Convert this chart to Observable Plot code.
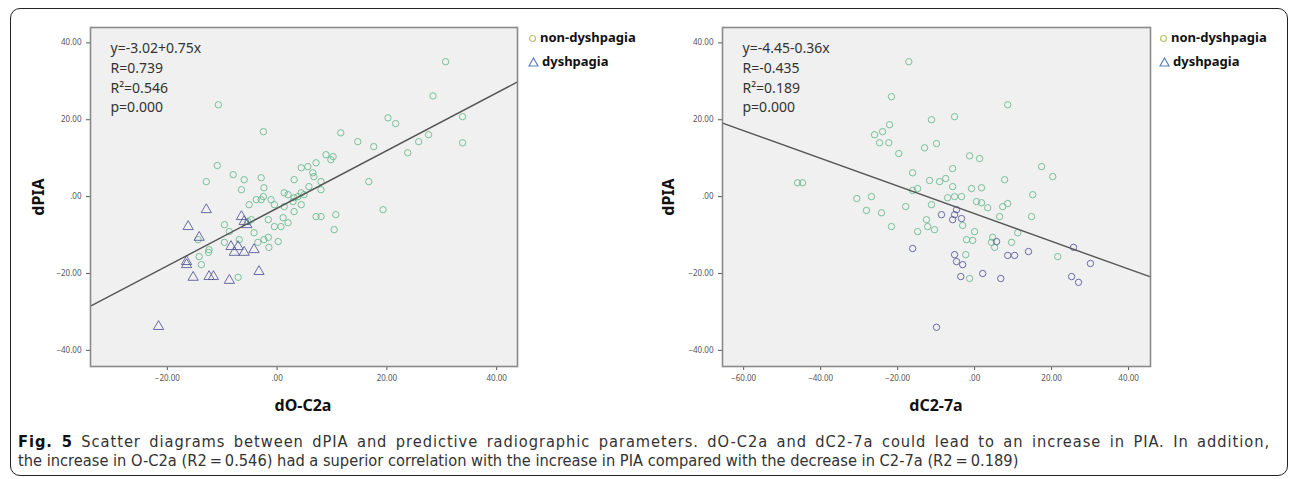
<!DOCTYPE html>
<html><head><meta charset="utf-8">
<script src="https://cdn.jsdelivr.net/npm/d3@7"></script>
<script src="https://cdn.jsdelivr.net/npm/@observablehq/plot@0.6"></script>
<style>
html,body{margin:0;padding:0;background:#fff;}
#wrap{position:relative;width:1290px;height:479px;overflow:hidden;font-family:"Noto Sans",sans-serif;}
#box{position:absolute;left:10px;top:8px;width:1278px;height:468px;border:1.5px solid #222;border-radius:10px;box-sizing:border-box;}
.plot{position:absolute;top:0;}
.ylab{position:absolute;font-weight:bold;font-size:16px;color:#111;transform:translate(-50%,-50%) rotate(-90deg);white-space:nowrap;}
.xlab{position:absolute;font-weight:bold;font-size:16px;color:#111;transform:translate(-50%,-50%);white-space:nowrap;}
.legend{position:absolute;font-weight:bold;font-size:13px;color:#111;line-height:24px;}
.legend svg{vertical-align:middle;margin-right:3px;}
.cap{position:absolute;left:18px;width:1252px;font-family:"Liberation Sans Narrow","DejaVu Sans Condensed","Roboto",sans-serif;font-size:16.3px;line-height:19px;color:#333;white-space:nowrap;}
#cap1{top:432px;text-align:justify;text-align-last:justify;white-space:normal;letter-spacing:0.95px;}
#cap2{top:451px;text-align:left;}
.cap b{color:#111;}
</style></head>
<body><div id="wrap"><div id="box"></div></div>
<script>
// ---- data: left panel (dO-C2a vs dPIA) ----
const leftNonX = [-10.7,-2.5,30.7,28.4,33.8,33.8,20.2,21.6,27.6,25.8,23.8,19.3,16.7,17.6,14.7,11.6,8.9,10.2,-10.9,-12.9,-8.0,-6.0,-2.9,-6.5,-2.4,1.3,3.1,4.4,6.5,7.1,8.0,5.6,6.7,4.4,7.1,10.7,10.4,-14.4,-14.2,-13.8,-12.4,-7.1,-8.7,-5.3,-4.2,-6.9,-9.6,-3.5,-2.4,-1.5,0.7,2.0,-1.6,-5.1,-2.9,-0.5,1.3,3.1,4.4,3.1,4.9,5.8,8.0,9.8,-2.5,-1.1,-3.8,2.0,3.8,2.9,1.1,8.0,-9.6,-0.5,-1.6,0.2,-12.5,-4.7];
const leftNonY = [23.9,16.9,35.1,26.2,20.8,14.0,20.5,19.0,16.1,14.3,11.4,-3.4,3.9,13.0,14.3,16.6,10.9,10.4,8.1,3.9,5.7,4.4,4.9,1.8,2.3,1.0,4.4,7.5,6.2,8.8,3.9,7.8,5.2,1.0,-5.2,-4.7,-8.6,-11.2,-15.6,-17.7,-13.8,-21.0,-9.1,-6.5,-9.4,-11.2,-7.3,-11.9,-11.2,-13.2,-7.8,-6.8,-6.0,-2.1,-0.8,-2.1,-2.6,-3.9,-2.1,-0.3,0.5,2.6,1.8,9.6,0.0,-0.8,-0.8,0.5,0.0,-1.3,-5.5,-5.2,-11.9,-7.8,-10.6,-11.7,-14.5,-6.0];
const leftDysX = [-21.6,-12.9,-16.2,-6.5,-14.2,-7.1,-8.4,-7.8,-6.0,-4.2,-16.5,-16.5,-3.3,-15.3,-12.4,-11.6,-8.7,-6.0,-5.5];
const leftDysY = [-33.8,-3.4,-7.8,-5.2,-10.6,-13.0,-13.0,-14.5,-14.5,-13.8,-16.9,-17.7,-19.5,-21.0,-20.8,-20.8,-21.8,-6.5,-7.3];
// ---- data: right panel (dC2-7a vs dPIA) ----
const rightNonX = [-17.1,-21.6,-23.9,-22.1,-26.0,-24.7,-22.3,-19.7,-13.0,-9.9,-11.2,-5.2,-1.3,1.3,-5.7,-16.1,-11.7,-9.1,-7.5,-14.8,-16.1,-5.7,-0.8,1.8,7.8,8.6,17.4,20.3,15.1,8.6,7.3,14.8,6.5,3.4,1.8,0.5,-3.4,-5.2,-7.0,-11.2,-17.9,-30.6,-26.8,-28.1,-24.2,-21.6,-14.8,-12.5,-10.4,-12.2,-3.1,0.0,-2.1,-0.5,4.7,4.4,5.2,9.6,11.2,21.6,-2.3,-1.3,-46.0,-44.7];
const rightNonY = [35.1,26.0,16.9,18.7,16.1,14.0,14.0,11.2,12.7,13.8,20.0,20.8,10.6,9.9,7.3,6.2,4.2,3.9,4.7,2.1,1.6,2.6,2.1,2.3,4.4,23.9,7.8,5.2,0.5,-1.8,-2.6,-5.2,-5.2,-2.9,-1.6,-1.3,0.0,0.0,-0.3,-2.1,-2.6,-0.5,0.0,-3.6,-4.2,-7.8,-9.1,-6.0,-8.6,-7.8,-7.5,-9.1,-11.2,-11.4,-10.6,-11.9,-13.2,-11.9,-9.4,-15.6,-15.1,-21.3,3.6,3.6];
const rightDysX = [-8.6,-5.2,-4.7,-5.7,-3.4,5.7,8.6,10.4,14.0,25.7,30.1,25.2,27.0,-5.2,-4.7,-3.1,-3.6,2.1,6.8,-16.1,-9.9];
const rightDysY = [-4.7,-4.7,-3.4,-6.0,-5.7,-11.7,-15.3,-15.3,-14.3,-13.2,-17.4,-20.8,-22.3,-15.1,-16.9,-17.7,-20.8,-20.0,-21.3,-13.5,-34.0];
// ---- fit equations and labels ----
const leftFit = {intercept: -3.02, slope: 0.75};
const rightFit = {intercept: -4.45, slope: -0.36};
const leftStats = ["y=-3.02+0.75x", "R=0.739", "R\u00b2=0.546", "p=0.000"];
const rightStats = ["y=-4.45-0.36x", "R=-0.435", "R\u00b2=0.189", "p=0.000"];
const leftXTicks = [-20, 0, 20, 40];
const rightXTicks = [-60, -40, -20, 0, 20, 40];
const yTicks = [-40, -20, 0, 20, 40];
const groups = ["non-dyshpagia", "dyshpagia"];

const colNon = "#63b98a", colDys = "#5a5d9c";
const fmt = d => d === 0 ? ".00" : d3.format(".2f")(d);

function panel(o) {
  const non = o.nonX.map((x, i) => ({x, y: o.nonY[i]}));
  const dys = o.dysX.map((x, i) => ({x, y: o.dysY[i]}));
  const fitLine = o.xDomain.map(x => ({x, y: o.fit.intercept + o.fit.slope * x}));
  return Plot.plot({
    width: o.width, height: 400,
    marginLeft: o.ml, marginRight: o.mr, marginTop: 27, marginBottom: 34,
    style: {background: "transparent", fontFamily: "Noto Sans, sans-serif"},
    x: {domain: o.xDomain, ticks: o.xTicks, tickFormat: fmt, label: null, tickSize: 4},
    y: {domain: [-44.2, 44], ticks: yTicks, tickFormat: fmt, label: null, tickSize: 4},
    marks: [
      Plot.frame({fill: "#f0f0f0", stroke: "none"}),
      Plot.axisX({ticks: o.xTicks, tickFormat: fmt, fontSize: 8, color: "#555", tickSize: 4, label: null}),
      Plot.axisY({ticks: yTicks, tickFormat: fmt, fontSize: 8, color: "#555", tickSize: 4, label: null}),
      Plot.dot(non, {x: "x", y: "y", r: 3.2, stroke: colNon, strokeWidth: 1, fill: "none", strokeOpacity: 0.85}),
      Plot.dot(dys, {x: "x", y: "y", r: o.dysSym === "triangle" ? 3.8 : 3.2, symbol: o.dysSym, stroke: colDys, strokeWidth: 1, fill: "none", strokeOpacity: 0.9}),
      Plot.line(fitLine, {x: "x", y: "y", stroke: "#555", strokeWidth: 1.4}),
      Plot.frame({stroke: "#8a8a8a", strokeWidth: 1.6}),
      Plot.text([o.stats.join("\n")], {frameAnchor: "top-left", dx: 20, dy: 12, fontSize: 14, lineHeight: 1.4, fill: "#333", textAnchor: "start"})
    ]
  });
}

const wrap = document.getElementById("wrap");
function place(el, left) { el.classList.add("plot"); el.style.left = left + "px"; wrap.appendChild(el); }

place(panel({width: 640, ml: 90, mr: 123, xDomain: [-34, 43.8], xTicks: leftXTicks,
  nonX: leftNonX, nonY: leftNonY, dysX: leftDysX, dysY: leftDysY, fit: leftFit, stats: leftStats, dysSym: "triangle"}), 0);
place(panel({width: 660, ml: 92, mr: 140, xDomain: [-65.5, 45.7], xTicks: rightXTicks,
  nonX: rightNonX, nonY: rightNonY, dysX: rightDysX, dysY: rightDysY, fit: rightFit, stats: rightStats, dysSym: "circle"}), 630);

function addDiv(cls, text, x, y) {
  const d = document.createElement("div"); d.className = cls; d.textContent = text;
  d.style.left = x + "px"; d.style.top = y + "px"; wrap.appendChild(d); return d;
}
addDiv("ylab", "dPIA", 38, 197);
addDiv("ylab", "dPIA", 668, 197);
addDiv("xlab", "dO-C2a", 303, 405);
addDiv("xlab", "dC2-7a", 936, 405);

function legend(x) {
  const d = document.createElement("div"); d.className = "legend";
  d.style.left = x + "px"; d.style.top = "25px";
  d.innerHTML =
    `<div><svg width="9" height="9"><circle cx="4.5" cy="4.5" r="3" fill="none" stroke="#b5c46a" stroke-width="1.2"/></svg>${groups[0]}</div>` +
    `<div><svg width="11" height="10"><path d="M5.5 1 L10 9 L1 9 Z" fill="none" stroke="#5b82b5" stroke-width="1.2"/></svg>${groups[1]}</div>`;
  wrap.appendChild(d);
}
legend(528);
legend(1159);

const cap1 = document.createElement("div"); cap1.className = "cap"; cap1.id = "cap1";
cap1.innerHTML = "<b>Fig. 5</b> Scatter diagrams between dPIA and predictive radiographic parameters. dO-C2a and dC2-7a could lead to an increase in PIA. In addition,";
wrap.appendChild(cap1);
const cap2 = document.createElement("div"); cap2.className = "cap"; cap2.id = "cap2";
cap2.textContent = "the increase in O-C2a (R2\u2009=\u20090.546) had a superior correlation with the increase in PIA compared with the decrease in C2-7a (R2\u2009=\u20090.189)";
wrap.appendChild(cap2);
</script></body></html>
